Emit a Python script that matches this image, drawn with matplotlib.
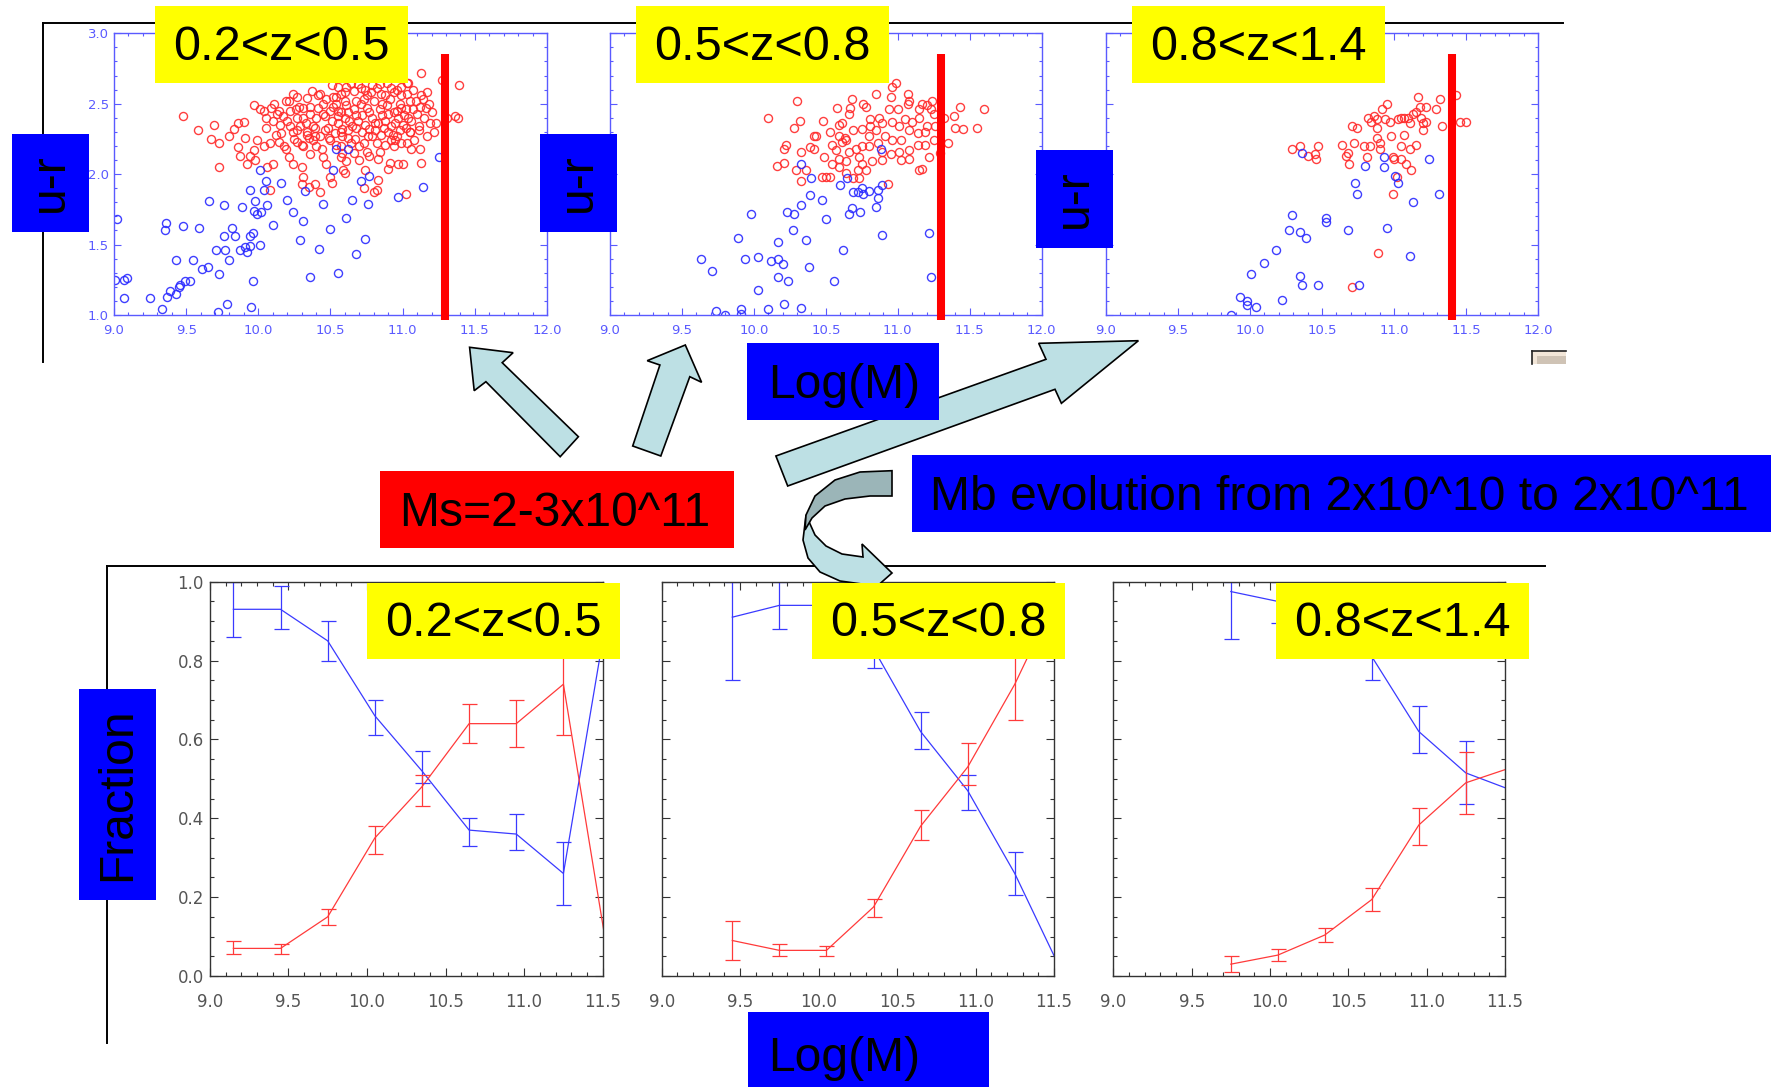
import matplotlib
matplotlib.use("Agg")
import matplotlib.pyplot as plt
import numpy as np
from matplotlib.patches import Rectangle, Polygon
from matplotlib.lines import Line2D
from matplotlib.ticker import MultipleLocator, FormatStrFormatter

# ---------------- data: top panels (u-r vs log M) ----------------
z_labels = ["0.2<z<0.5", "0.5<z<0.8", "0.8<z<1.4"]
cut_mass = [11.29, 11.30, 11.40]

top1_blue = [(9.01,1.25),(9.07,1.25),(9.09,1.26),(9.02,1.68),(9.07,1.12),(9.25,1.12),(9.33,1.04),(9.37,1.13),(9.39,1.17),(9.43,1.15),
(9.45,1.20),(9.46,1.21),(9.49,1.24),(9.53,1.24),(9.43,1.39),(9.55,1.39),(9.61,1.33),(9.65,1.34),(9.73,1.29),(9.72,1.02),
(9.78,1.08),(9.96,1.24),(9.95,1.06),(9.36,1.65),(9.35,1.60),(9.48,1.63),(9.59,1.62),(9.66,1.81),(9.76,1.78),(9.71,1.46),
(9.77,1.46),(9.80,1.39),(9.76,1.56),(9.82,1.62),(9.84,1.56),(9.87,1.46),(9.91,1.48),(9.92,1.45),(9.94,1.49),(9.94,1.56),
(9.96,1.58),(10.01,1.50),(9.89,1.77),(9.94,1.89),(9.98,1.81),(9.97,1.74),(9.99,1.72),(10.02,1.73),(10.06,1.78),(10.10,1.64),
(10.01,2.03),(10.05,1.95),(10.04,1.89),(10.16,1.94),(10.20,1.82),(10.24,1.73),(10.31,1.67),(10.32,1.88),(10.29,1.53),(10.36,1.27),
(10.42,1.47),(10.45,1.79),(10.50,1.61),(10.55,1.30),(10.52,2.03),(10.54,2.18),(10.62,2.18),(10.77,1.99),(10.71,1.95),
(10.65,1.82),(10.76,1.79),(10.61,1.69),(10.74,1.54),(10.68,1.43),(10.97,1.84),(11.14,1.91),(11.25,2.12)]

top1_red = [(9.48,2.41),(9.58,2.31),(9.69,2.35),(9.67,2.25),(9.73,2.22),(9.80,2.27),(9.83,2.32),(9.86,2.36),(9.90,2.37),(9.91,2.26),
(9.86,2.19),(9.87,2.13),(9.92,2.07),(9.73,2.05),(9.97,2.49),(10.01,2.46),(10.04,2.45),(10.09,2.47),(10.10,2.38),(10.13,2.43),
(10.05,2.33),(9.99,2.24),(9.97,2.17),(9.94,2.13),(9.98,2.10),(10.04,2.20),(10.10,2.07),(10.06,2.05),(10.08,1.89),(10.17,2.41),
(10.19,2.52),(10.24,2.57),(10.26,2.46),(10.22,2.34),(10.16,2.29),(10.14,2.23),(10.19,2.18),(10.21,2.12),(10.24,2.07),(10.30,2.05),
(10.31,1.98),(10.30,1.93),(10.35,1.91),(10.39,1.93),(10.43,1.87),(10.37,2.59),(10.36,2.48),(10.43,2.57),(10.51,2.63),(10.31,2.40),
(10.27,2.31),(10.34,2.28),(10.38,2.34),(10.45,2.43),(10.46,2.31),(10.50,2.24),(10.31,2.20),(10.36,2.14),(10.40,2.20),(10.45,2.12),
(10.50,1.98),(10.51,1.94),(10.47,2.07),(10.27,2.23),(10.39,2.27),(10.55,2.41),(10.54,2.55),(10.57,2.20),
(11.13,2.72),(11.39,2.63),(11.27,2.67),(11.17,2.58),(11.13,2.56),(11.03,2.65),(11.05,2.52),(11.12,2.48),(11.16,2.47),(11.19,2.36),
(11.23,2.36),(11.31,2.40),(11.36,2.41),(11.38,2.40),(11.11,2.34),(11.11,2.31),(11.05,2.30),(10.99,2.22),(11.06,2.18),(11.12,2.18),
(11.13,2.08),(11.00,2.07),(10.97,2.07),(10.90,2.04),(10.91,2.08),(10.83,1.96),(10.80,1.87),(10.82,1.89),(11.02,1.86),(10.73,1.90),
(10.74,2.03),(10.60,2.01),(10.57,2.12),(10.61,2.09),(10.59,2.03),(10.77,2.13),(10.83,2.11),(10.88,2.21),(10.92,2.24),
(10.96,2.27),(11.03,2.22),
(10.52,2.55),(10.57,2.57),(10.61,2.62),(10.66,2.59),(10.71,2.61),(10.75,2.56),(10.79,2.63),(10.82,2.61),(10.85,2.57),(10.89,2.65),
(10.92,2.61),(10.96,2.60),(10.99,2.56),(11.03,2.57),(11.07,2.60),(10.52,2.48),(10.57,2.44),(10.61,2.49),(10.66,2.46),(10.71,2.50),
(10.75,2.47),(10.80,2.52),(10.84,2.46),(10.89,2.49),(10.94,2.44),(10.98,2.50),(11.02,2.46),(11.07,2.46),(10.51,2.38),(10.55,2.36),
(10.60,2.40),(10.65,2.34),(10.69,2.38),(10.74,2.35),(10.79,2.40),(10.83,2.36),(10.88,2.38),(10.92,2.34),(10.97,2.40),(11.00,2.35),
(11.06,2.38),(10.53,2.29),(10.58,2.27),(10.62,2.31),(10.67,2.25),(10.72,2.30),(10.76,2.27),(10.81,2.31),(10.85,2.28),(10.90,2.30),
(10.95,2.24),(10.98,2.31),(10.54,2.21),(10.64,2.22),(10.70,2.20),(10.82,2.22),(10.75,2.16),(10.66,2.15),(10.70,2.10),
(10.22,2.45),(10.27,2.40),(10.31,2.47),(10.36,2.43),(10.41,2.47),(10.46,2.41),(10.24,2.30),(10.29,2.34),(10.34,2.30),(10.39,2.33),
(10.43,2.27),(10.48,2.33),(10.30,2.21),(10.35,2.26),(10.44,2.18),(10.49,2.26),(10.21,2.52),(10.27,2.55),(10.34,2.54),(10.41,2.56),
(10.47,2.53),(10.15,2.35),(10.12,2.28),(10.08,2.22),(10.18,2.20),(10.05,2.40),(10.54,2.50),(10.58,2.32),(10.62,2.44),(10.68,2.52),
(10.72,2.42),(10.77,2.32),(10.86,2.42),(10.91,2.53),(10.96,2.45),(11.01,2.42),(11.05,2.30),(11.09,2.52),(10.55,2.62),(10.64,2.65),
(10.78,2.58),(10.88,2.56),(10.99,2.62),(11.04,2.65),(10.58,2.15),(10.84,2.16),(10.94,2.20),(11.08,2.24),(11.15,2.40),(11.18,2.50),
(10.55,2.45),(10.60,2.52),(10.63,2.38),(10.68,2.42),(10.73,2.53),(10.77,2.44),(10.81,2.36),(10.86,2.50),(10.90,2.43),(10.95,2.36),
(10.99,2.47),(11.04,2.40),(10.57,2.30),(10.62,2.26),(10.68,2.33),(10.73,2.22),(10.79,2.27),(10.87,2.33),(10.93,2.28),(11.02,2.33),
(10.50,2.45),(10.45,2.50),(10.40,2.40),(10.33,2.36),(10.28,2.48),(10.20,2.38),(10.25,2.25),(10.38,2.24),(10.60,2.58),(10.69,2.64),
(10.74,2.60),(10.84,2.64),(10.94,2.58),(11.10,2.43),(11.14,2.53),(11.20,2.44),(11.22,2.30),(11.17,2.27),(10.14,2.45),(10.11,2.50)]

top2_blue = [(10.33,2.07),(10.40,1.97),(10.65,1.97),(10.60,1.92),(10.69,1.87),(10.72,1.87),(10.75,1.90),(10.76,1.86),(10.80,1.88),(10.86,1.89),
(10.89,1.92),(10.86,1.83),(10.85,1.77),(10.68,1.76),(10.66,1.72),(10.74,1.73),(10.39,1.85),(10.47,1.82),(10.33,1.78),(10.23,1.73),
(10.28,1.72),(9.98,1.72),(10.50,1.68),(10.27,1.60),(10.36,1.53),(10.17,1.52),(9.89,1.55),(10.89,1.57),(11.22,1.58),(10.62,1.46),
(9.63,1.40),(9.94,1.40),(10.03,1.41),(10.17,1.40),(10.12,1.38),(10.20,1.36),(10.38,1.34),(9.71,1.31),(10.17,1.27),(10.24,1.24),
(10.56,1.24),(11.23,1.27),(10.03,1.18),(10.21,1.08),(10.33,1.05),(10.10,1.04),(9.91,1.04),(9.74,1.03),(9.80,1.00),(9.91,1.01),
(10.88,2.18)]

top2_red = [(10.10,2.40),(10.30,2.52),(10.32,2.38),(10.28,2.33),(10.22,2.21),(10.21,2.18),(10.33,2.16),(10.16,2.06),(10.21,2.08),(10.29,2.03),
(10.33,1.95),(10.36,2.03),(10.39,2.19),(10.42,2.18),(10.42,2.27),(10.43,2.27),(10.49,2.12),(10.48,2.38),(10.53,2.30),(10.58,2.47),
(10.59,2.35),(10.61,2.36),(10.54,2.21),(10.57,2.17),(10.61,2.23),(10.63,2.26),(10.66,2.43),(10.67,2.47),(10.68,2.53),(10.76,2.50),
(10.78,2.48),(10.85,2.57),(10.95,2.55),(10.96,2.62),(10.99,2.65),(11.07,2.57),(11.08,2.52),(11.07,2.50),(11.15,2.46),(11.17,2.50),
(11.20,2.49),(11.24,2.52),(11.23,2.46),(11.25,2.43),(11.32,2.40),(11.39,2.41),(11.43,2.48),(11.40,2.33),(11.45,2.32),(11.55,2.33),
(11.60,2.46),(11.35,2.22),(11.29,2.15),(11.22,2.12),(11.17,2.04),(11.15,2.03),(10.93,1.93),(11.00,2.46),(10.94,2.46),(10.87,2.40),
(10.81,2.39),(10.81,2.34),(10.75,2.32),(10.69,2.31),(10.64,2.24),(10.59,2.11),(10.54,2.07),(10.50,1.98),(10.53,1.98),(10.59,2.05),
(10.64,2.09),(10.69,1.97),(10.72,2.03),(10.75,2.07),(10.73,2.12),(10.71,2.18),(10.80,2.27),(10.85,2.31),(10.89,2.36),(10.96,2.37),
(11.01,2.34),(11.05,2.39),(11.10,2.37),(11.15,2.40),(11.20,2.34),(11.26,2.34),(11.19,2.30),(11.14,2.29),(11.08,2.31),(11.02,2.24),
(10.96,2.24),(10.91,2.27),(10.86,2.22),(10.80,2.20),(10.75,2.20),(10.89,2.16),(10.95,2.14),(11.01,2.16),(11.08,2.17),(11.14,2.21),
(11.19,2.21),(11.25,2.24),(10.82,2.09),(10.89,2.10),(11.02,2.10),(11.08,2.11),(10.64,2.01),(10.73,1.97),(10.78,2.03),(10.66,2.16),
(10.59,2.27),(10.47,1.98)]

top3_blue = [(10.36,2.15),(10.80,2.06),(10.93,2.05),(11.01,1.99),(11.03,1.94),(10.73,1.94),(10.74,1.86),(11.24,2.11),(11.31,1.86),(11.13,1.80),
(10.29,1.71),(10.53,1.69),(10.53,1.66),(10.27,1.60),(10.35,1.59),(10.39,1.55),(10.68,1.60),(10.95,1.62),(10.18,1.46),(10.10,1.37),
(10.01,1.29),(10.35,1.28),(10.36,1.21),(10.47,1.21),(10.76,1.21),(11.11,1.42),(9.93,1.13),(9.98,1.10),(9.98,1.07),(10.04,1.06),
(10.22,1.11),(9.87,1.00),(10.93,2.12)]

top3_red = [(10.29,2.18),(10.35,2.20),(10.40,2.13),(10.45,2.14),(10.46,2.11),(10.47,2.20),(10.64,2.21),(10.67,2.13),(10.68,2.15),(10.69,2.07),
(10.72,2.22),(10.71,2.34),(10.74,2.33),(10.79,2.20),(10.81,2.12),(10.82,2.40),(10.84,2.37),(10.88,2.39),(10.88,2.33),(10.88,2.26),
(10.90,2.22),(10.90,2.18),(10.92,2.46),(10.95,2.50),(10.94,2.39),(10.97,2.37),(10.98,2.27),(10.99,2.12),(11.00,2.11),(11.02,1.98),
(10.99,1.86),(11.05,2.11),(11.05,2.20),(11.05,2.40),(11.07,2.40),(11.07,2.28),(11.08,2.07),(11.10,2.40),(11.11,2.18),(11.12,2.03),
(11.13,2.43),(11.15,2.44),(11.15,2.21),(11.17,2.55),(11.18,2.48),(11.19,2.40),(11.20,2.36),(11.20,2.31),(11.22,2.48),(11.22,2.37),
(11.29,2.46),(11.32,2.53),(11.33,2.34),(11.43,2.56),(11.46,2.37),(11.50,2.37),(10.89,1.44),(10.71,1.20),(10.83,2.20),(10.86,2.41),
(11.03,2.39),(11.11,2.36)]

# ---------------- data: bottom panels (fraction vs log M) ----------------
bins1 = [9.15, 9.45, 9.75, 10.05, 10.35, 10.65, 10.95, 11.25, 11.55]
blue1 = [0.93, 0.93, 0.85, 0.66, 0.52, 0.37, 0.36, 0.26, 0.97]
blue1_lo = [0.86, 0.88, 0.80, 0.61, 0.49, 0.33, 0.32, 0.18]
blue1_hi = [1.00, 0.99, 0.90, 0.70, 0.57, 0.40, 0.41, 0.34]
red1 = [0.07, 0.07, 0.15, 0.35, 0.48, 0.64, 0.64, 0.74, 0.01]
red1_lo = [0.055, 0.055, 0.13, 0.31, 0.43, 0.59, 0.58, 0.61]
red1_hi = [0.09, 0.08, 0.17, 0.38, 0.51, 0.69, 0.70, 0.83]

bins2 = [9.45, 9.75, 10.05, 10.35, 10.65, 10.95, 11.25, 11.55]
blue2 = [0.91, 0.94, 0.94, 0.83, 0.62, 0.47, 0.26, 0.01]
blue2_lo = [0.75, 0.88, 0.89, 0.78, 0.575, 0.42, 0.205]
blue2_hi = [1.00, 1.00, 0.99, 0.88, 0.67, 0.51, 0.315]
red2 = [0.09, 0.065, 0.065, 0.175, 0.38, 0.53, 0.74, 0.99]
red2_lo = [0.04, 0.05, 0.05, 0.15, 0.345, 0.485, 0.65]
red2_hi = [0.14, 0.08, 0.075, 0.195, 0.42, 0.59, 0.83]

bins3 = [9.75, 10.05, 10.35, 10.65, 10.95, 11.25, 11.55]
blue3 = [0.975, 0.95, 0.89, 0.81, 0.62, 0.515, 0.47]
blue3_lo = [0.855, 0.895, 0.84, 0.75, 0.565, 0.435]
blue3_hi = [1.00, 1.00, 0.94, 0.87, 0.685, 0.595]
red3 = [0.03, 0.053, 0.104, 0.194, 0.383, 0.49, 0.53]
red3_lo = [0.01, 0.038, 0.085, 0.166, 0.332, 0.41]
red3_hi = [0.051, 0.068, 0.121, 0.222, 0.427, 0.567]

# ---------------- figure ----------------
W, H = 1771, 1087
fig = plt.figure(figsize=(W / 100, H / 100), dpi=100)
fig.patch.set_facecolor("white")
LBL = ["Liberation Sans", "DejaVu Sans"]
BIG = 34.6
YEL = 35


def axes_px(l, t, r, b):
    return fig.add_axes([l / W, 1 - b / H, (r - l) / W, (b - t) / H])


def rect(l, t, r, b, fc, ec="none", lw=0, z=5):
    fig.add_artist(Rectangle((l / W, 1 - b / H), (r - l) / W, (b - t) / H,
                             transform=fig.transFigure, facecolor=fc,
                             edgecolor=ec, linewidth=lw, zorder=z))


def text(x, y, s, size, ha="center", va="center", rot=0, z=6):
    fig.text(x / W, 1 - y / H, s, fontsize=size, ha=ha, va=va, rotation=rot,
             family=LBL, color="black", zorder=z)


def poly(pts, fc, z=3):
    fig.add_artist(Polygon([(x / W, 1 - y / H) for x, y in pts], closed=True,
                           transform=fig.transFigure, facecolor=fc,
                           edgecolor="black", linewidth=1.2, zorder=z))


def fline(x0, y0, x1, y1, color="black", lw=1.4, z=1):
    fig.add_artist(Line2D([x0 / W, x1 / W], [1 - y0 / H, 1 - y1 / H],
                          transform=fig.transFigure, color=color,
                          linewidth=lw, zorder=z))


# frame lines
fline(43, 22.5, 1563, 22.5)
fline(43, 22.5, 43, 362)
fline(107, 565.5, 1545, 565.5)
fline(107, 565.5, 107, 1043)

# ---------------- top panels ----------------
TB = "#5a5aff"
top_lr = [(114, 547), (610, 1041.7), (1106, 1538)]
top_blue = [top1_blue, top2_blue, top3_blue]
top_red = [top1_red, top2_red, top3_red]
for i, (l, r) in enumerate(top_lr):
    ax = axes_px(l, 33.3, r, 315)
    ax.set_xlim(9, 12)
    ax.set_ylim(1, 3)
    ax.xaxis.set_major_locator(MultipleLocator(0.5))
    ax.xaxis.set_minor_locator(MultipleLocator(0.1))
    ax.yaxis.set_major_locator(MultipleLocator(0.5))
    ax.yaxis.set_minor_locator(MultipleLocator(0.1))
    ax.xaxis.set_major_formatter(FormatStrFormatter("%.1f"))
    ax.yaxis.set_major_formatter(FormatStrFormatter("%.1f"))
    ax.tick_params(which="both", direction="in", top=True, right=True,
                   color=TB, labelcolor=TB, labelsize=9.5, width=0.8)
    ax.tick_params(which="major", length=5)
    ax.tick_params(which="minor", length=2.5)
    ax.tick_params(axis="x", pad=6.5)
    ax.tick_params(axis="y", pad=3.6)
    if i > 0:
        ax.tick_params(labelleft=False)
    for sp in ax.spines.values():
        sp.set_color(TB)
        sp.set_linewidth(1.0)
    rx, ry = zip(*top_red[i])
    bx, by = zip(*top_blue[i])
    ax.plot(rx, ry, "o", mfc="none", mec="#ff2a2a", ms=5.8, mew=1.0, alpha=0.9)
    ax.plot(bx, by, "o", mfc="none", mec="#2a2aff", ms=5.8, mew=1.0, alpha=0.9)
    ax.plot([cut_mass[i], cut_mass[i]], [2.85, 0.965], color="#ff0000",
            lw=5.8, solid_capstyle="butt", clip_on=False, zorder=5)

# ---------------- bottom panels ----------------
BB = "#3a3aff"
RR = "#ff3a3a"
bot_lr = [(209.8, 602.7), (661.7, 1054), (1113.3, 1505)]
bot_data = [
    (bins1, blue1, blue1_lo, blue1_hi, red1, red1_lo, red1_hi),
    (bins2, blue2, blue2_lo, blue2_hi, red2, red2_lo, red2_hi),
    (bins3, blue3, blue3_lo, blue3_hi, red3, red3_lo, red3_hi),
]
for i, (l, r) in enumerate(bot_lr):
    ax = axes_px(l, 581.7, r, 976)
    ax.set_xlim(9, 11.5)
    ax.set_ylim(0, 1)
    ax.xaxis.set_major_locator(MultipleLocator(0.5))
    ax.xaxis.set_minor_locator(MultipleLocator(0.1))
    ax.yaxis.set_major_locator(MultipleLocator(0.2))
    ax.yaxis.set_minor_locator(MultipleLocator(0.05))
    ax.xaxis.set_major_formatter(FormatStrFormatter("%.1f"))
    ax.yaxis.set_major_formatter(FormatStrFormatter("%.1f"))
    ax.tick_params(which="both", direction="in", top=True, right=True,
                   color="#333333", labelcolor="#555555", labelsize=12, width=0.8)
    ax.tick_params(which="major", length=5.5)
    ax.tick_params(which="minor", length=3)
    ax.tick_params(axis="x", pad=12)
    ax.tick_params(axis="y", pad=4.3)
    if i > 0:
        ax.tick_params(labelleft=False)
    for sp in ax.spines.values():
        sp.set_color("#333333")
        sp.set_linewidth(1.0)
    bins, b, blo, bhi, rd, rlo, rhi = [np.asarray(v, float) for v in bot_data[i]]
    ax.plot(bins, b, color=BB, lw=0.9)
    ax.plot(bins, rd, color=RR, lw=0.9)
    n = len(blo)
    ax.errorbar(bins[:n], b[:n], yerr=[b[:n] - blo, bhi - b[:n]], fmt="none",
                ecolor=BB, elinewidth=0.9, capsize=5.4, capthick=0.9)
    ax.errorbar(bins[:n], rd[:n], yerr=[rd[:n] - rlo, rhi - rd[:n]], fmt="none",
                ecolor=RR, elinewidth=0.9, capsize=5.4, capthick=0.9)

# ---------------- arrows ----------------
LIGHT = "#bde0e4"
DARK = "#9bb5b8"
poly([(469.6, 347.3), (513.1, 352.7), (502.2, 362.7), (578.4, 436.7),
      (560.2, 456.7), (485.9, 381.7), (474.2, 390.7)], LIGHT)
poly([(685.3, 345), (701.6, 382.3), (689.8, 376.7), (660.8, 456),
      (632.7, 446), (659.9, 365), (647.2, 360.7)], LIGHT)
poly([(1138.4, 340.7), (1038.7, 343.3), (1046, 359.3), (775.9, 456),
      (787.7, 486), (1055, 389.3), (1061.4, 403.3)], LIGHT)
poly([(806, 515), (803, 540), (808, 558), (820, 572), (840, 581), (862, 584),
      (866, 596), (892, 573), (862, 544), (863, 557), (842, 554), (826, 546),
      (815, 535)], LIGHT, z=3)
poly([(892, 470.7), (860, 472), (835, 480), (815, 496), (806, 515), (805, 530),
      (812, 518), (825, 506), (845, 499), (870, 496), (892, 496)], DARK, z=3.1)

# ---------------- label boxes ----------------
for (l, r), s in zip([(155, 408), (636, 889), (1132, 1385)], z_labels):
    rect(l, 6, r, 82.7, "#ffff00")
    text((l + r) / 2, 47.5, s, YEL)
for (l, r), s in zip([(367, 620), (811.7, 1065), (1275.7, 1529)], z_labels):
    rect(l, 583, r, 659, "#ffff00")
    text((l + r) / 2, 624, s, YEL)

for (l, t, r, b) in [(12, 134, 89, 231.7), (540, 134, 616.7, 231.7),
                     (1036, 150, 1112.7, 247.7)]:
    rect(l, t, r, b, "#0000ff")
    text((l + r) / 2, (t + b) / 2, "u-r", BIG, rot=90)

rect(79, 689, 156, 900, "#0000ff")
text(117.5, 794.5, "Fraction", BIG, rot=90)

rect(747, 342.7, 939, 420, "#0000ff")
text(768, 385, "Log(M)", BIG, ha="left")
rect(748, 1011.7, 989, 1087, "#0000ff")
text(768, 1071, "Log(M)", BIG, ha="left", va="baseline")

rect(380, 471, 734, 547.7, "#ff0000")
text(555, 513, "Ms=2-3x10^11", BIG)

rect(912, 455, 1771, 531.7, "#0000ff")
text(930, 497, "Mb evolution from 2x10^10 to 2x10^11", BIG, ha="left")

# small window fragment at right edge
rect(1532, 351, 1566, 364, "#f2e6d8", z=4)
rect(1537, 356, 1566, 364, "#cfc3b5", z=4.1)
fline(1532, 351, 1566, 351, color="#222222", lw=1.2, z=4.2)
fline(1532, 351, 1532, 364, color="#222222", lw=1.2, z=4.2)

fig.savefig("out.png", dpi=100, facecolor="white")
